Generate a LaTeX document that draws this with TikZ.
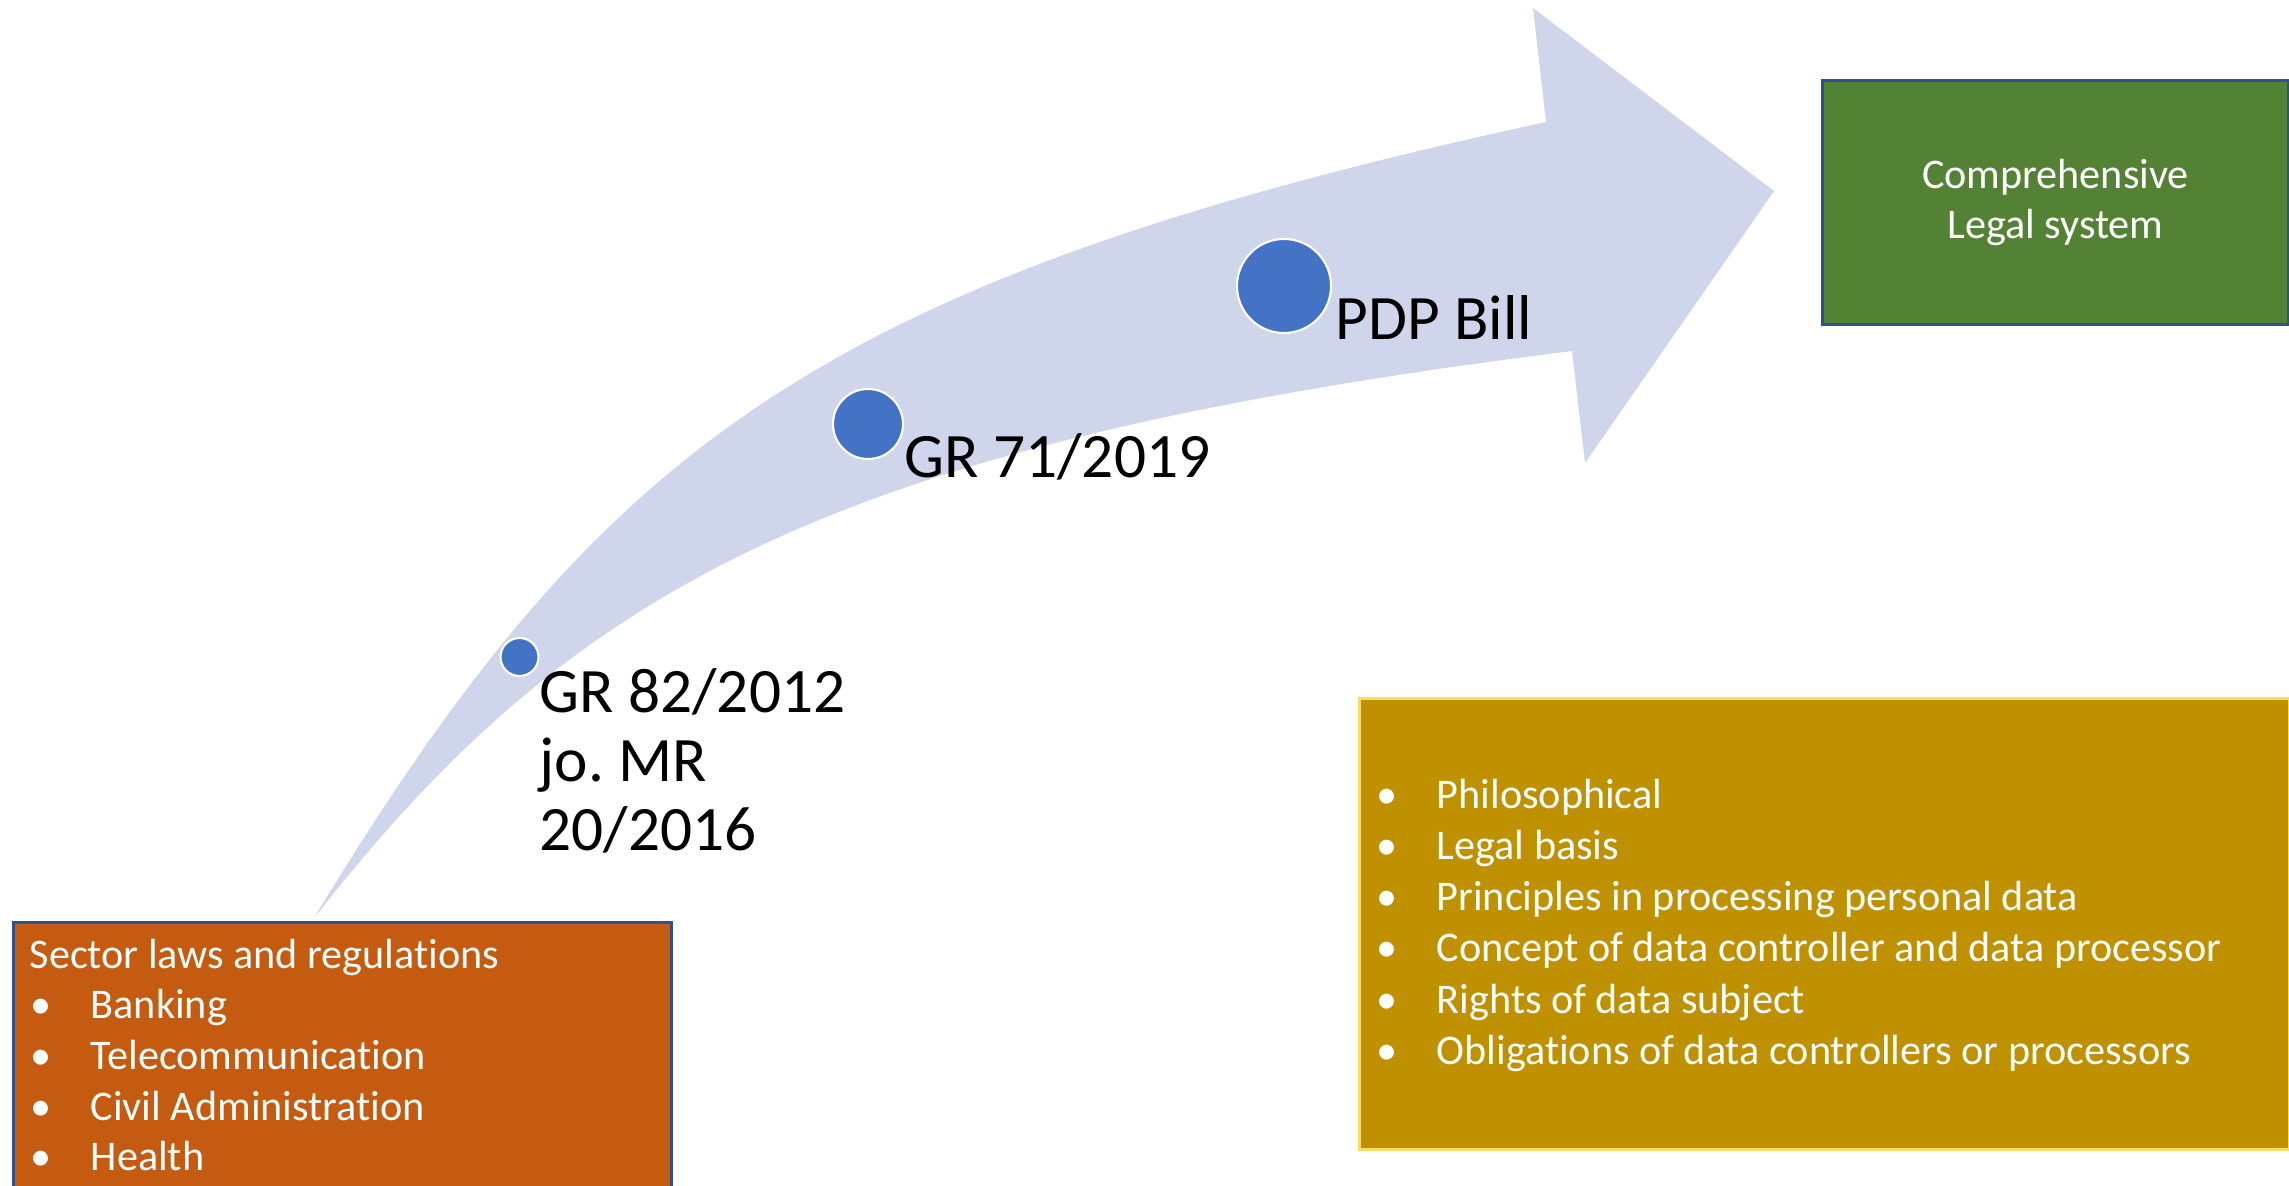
\documentclass[tikz,border=0pt]{standalone}
\usepackage{fontspec}
\setmainfont{Carlito}[Ligatures={NoCommon,NoContextual}]
\definecolor{arrowblue}{HTML}{CFD5EA}
\definecolor{dotblue}{HTML}{4472C4}
\definecolor{boxline}{HTML}{2F528F}
\definecolor{rust}{HTML}{C55A11}
\definecolor{leaf}{HTML}{548235}
\definecolor{gold}{HTML}{BF9000}
\definecolor{goldline}{HTML}{FFD966}
\frenchspacing

\begin{document}
\begin{tikzpicture}[x=0.01cm, y=-0.01cm,
  dot/.style={circle, draw=white, line width=0.6pt, fill=dotblue, inner sep=0pt},
  milestone/.style={anchor=base west, inner sep=0pt, align=left, font=\fontsize{18}{19.6}\selectfont},
  panel/.style={rectangle, anchor=north west, inner sep=0pt, line width=0.75pt},
  item/.style={anchor=base west, inner sep=0pt, text=white, font=\fontsize{12}{14.4}\selectfont}]
\path[use as bounding box, clip] (0,0) rectangle (2289,1185);

\fill[arrowblue] (314,918) .. controls (599.5,448.3) and (813.2,281) .. (1546,122)
  -- (1533,8) -- (1774,191) -- (1585,463) -- (1572,351)
  .. controls (828,444) and (573,587.5) .. (314,918) -- cycle;

\node[panel, draw=boxline, fill=rust, minimum width=6.58cm, minimum height=3.2cm] (sector) at (12,921) {};
\node[panel, draw=boxline, fill=leaf, minimum width=4.66cm, minimum height=2.44cm,
  text=white, align=center, font=\fontsize{12}{14.4}\selectfont] (goal) at (1821,79) {Comprehensive\\Legal system};
\node[panel, draw=goldline, fill=gold, minimum width=9.29cm, minimum height=4.51cm] (content) at (1358,697) {};

\node[dot, minimum size=0.38cm] (d82) at (519.5,657) {};
\node[dot, minimum size=0.70cm] (d71) at (868,424) {};
\node[dot, minimum size=0.94cm] (dbill) at (1284,286) {};

\node[milestone] (gr82) at (539,850) {GR 82/2012\\jo. MR\\20/2016};
\node[milestone] (gr71) at (904,477) {GR 71/2019};
\node[milestone] (bill) at (1335,339) {PDP Bill};

\node[item] (sector0) at (29,968) {Sector laws and regulations};
\foreach \t [count=\i] in {Banking,Telecommunication,Civil Administration,Health}
  \node[item] (sector\i) at (30,{968+50.7*\i}) {\makebox[0.6cm][l]{•}\t};

\foreach \t [count=\i from 0] in {Philosophical,Legal basis,Principles in processing personal data,
  Concept of data controller and data processor,Rights of data subject,Obligations of data controllers or processors}
  \node[item] (topic\i) at (1376,{808+51.3*\i}) {\makebox[0.6cm][l]{•}\t};
\end{tikzpicture}
\end{document}
